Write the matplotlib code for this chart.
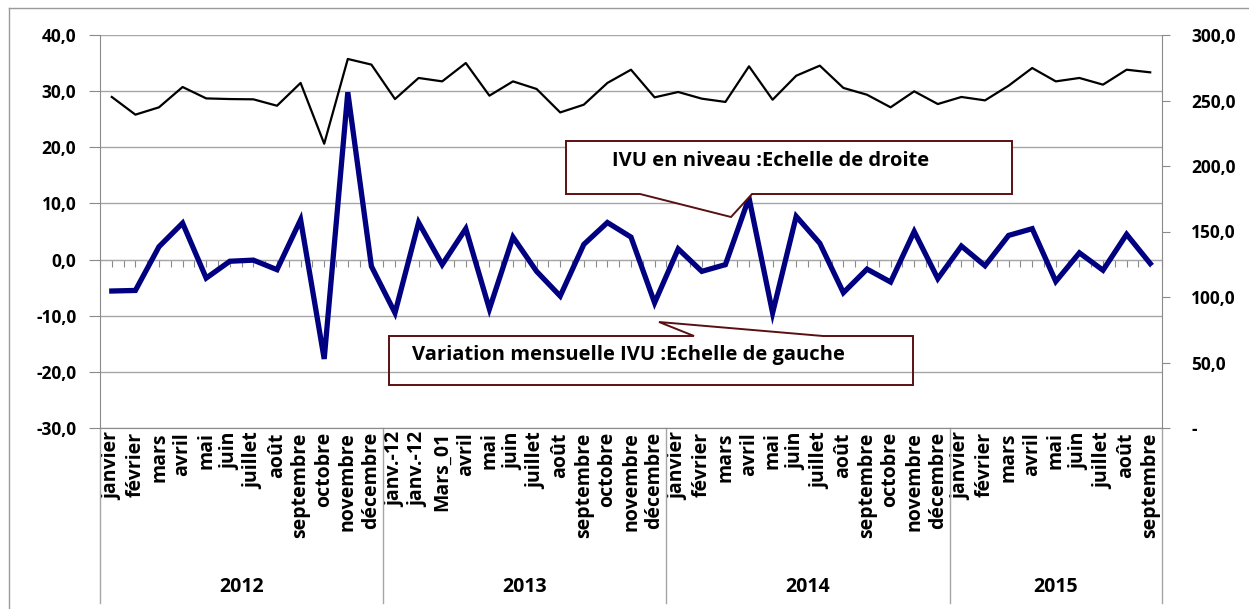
import numpy as np
import matplotlib
matplotlib.use("Agg")
import matplotlib.pyplot as plt
from matplotlib.patches import Polygon
from matplotlib.lines import Line2D
from matplotlib.ticker import FuncFormatter

plt.rcParams['font.family'] = ['Open Sans', 'DejaVu Sans']
plt.rcParams['font.weight'] = 'bold'

# data
months = ['janvier', 'février', 'mars', 'avril', 'mai', 'juin', 'juillet', 'août',
          'septembre', 'octobre', 'novembre', 'décembre',
          'janv.-12', 'janv.-12', 'Mars_01', 'avril', 'mai', 'juin', 'juillet', 'août',
          'septembre', 'octobre', 'novembre', 'décembre',
          'janvier', 'février', 'mars', 'avril', 'mai', 'juin', 'juillet', 'août',
          'septembre', 'octobre', 'novembre', 'décembre',
          'janvier', 'février', 'mars', 'avril', 'mai', 'juin', 'juillet', 'août',
          'septembre']
years = ['2012', '2013', '2014', '2015']
months_per_year = [12, 12, 12, 9]

# monthly variation (left scale)
variation = [-5.6, -5.5, 2.3, 6.5, -3.3, -0.3, -0.1, -1.8, 7.1, -17.7, 29.8, -1.2,
             -9.5, 6.6, -0.9, 5.5, -8.8, 4.0, -2.1, -6.5, 2.7, 6.6, 4.0, -7.7,
             1.9, -2.1, -0.9, 11.0, -9.5, 7.7, 2.9, -5.9, -1.7, -4.0, 5.0, -3.4,
             2.4, -1.1, 4.3, 5.5, -3.9, 1.2, -1.9, 4.5, -0.7]
# level (right scale)
niveau = [252.7, 239.2, 244.8, 260.3, 251.6, 251.1, 250.9, 246.0, 263.4, 217.0, 281.7, 277.4,
          251.1, 267.2, 264.6, 278.6, 253.7, 264.6, 258.8, 240.9, 246.8, 263.4, 273.5, 252.4,
          256.5, 251.4, 248.9, 276.1, 250.6, 268.9, 276.6, 259.6, 254.4, 244.8, 257.0, 247.3,
          252.7, 250.1, 261.3, 274.8, 264.6, 267.2, 262.1, 273.5, 271.5]

W, H = 1249, 609
fig = plt.figure(figsize=(W / 100, H / 100), dpi=100)


def fx(x):
    return x / W


def fy(y):
    return 1 - y / H


grey = '#8a8a8a'
ax = fig.add_axes([fx(100), fy(428), fx(1162) - fx(100), fy(35) - fy(428)])
x = np.arange(len(months))

ax.set_xlim(-0.5, len(months) - 0.5)
ax.set_ylim(-30, 40)
ax.set_yticks(np.arange(-30, 41, 10))
ax.yaxis.set_major_formatter(FuncFormatter(lambda v, p: f'{v:.1f}'.replace('.', ',')))
ax.grid(axis='y', color='#a6a6a6', linewidth=1)
ax.set_axisbelow(True)
for s in ['top', 'right']:
    ax.spines[s].set_visible(False)
for s in ['left', 'bottom']:
    ax.spines[s].set_color(grey)
ax.tick_params(axis='y', length=8, color=grey, labelsize=12.5, pad=9)
ax.set_xticks(x, months, rotation=90)
ax.tick_params(axis='x', length=0, labelsize=14, pad=3)

# zero-line category axis with ticks
sec = ax.secondary_xaxis(30 / 70)
sec.set_xticks(np.arange(-0.5, len(months), 0.5))
sec.tick_params(axis='x', direction='out', length=5, color=grey, labelbottom=False, labeltop=False,
                bottom=True, top=False)
sec.spines['bottom'].set_color('#a6a6a6')
sec.spines['top'].set_visible(False)

ax.plot(x, variation, color='#000080', linewidth=3.8, zorder=3, solid_joinstyle='miter')

ax2 = ax.twinx()
ax2.set_ylim(0, 300)
ax2.set_yticks(np.arange(0, 301, 50))
ax2.yaxis.set_major_formatter(FuncFormatter(lambda v, p: '-' if v == 0 else f'{v:.1f}'.replace('.', ',')))
for s in ['top', 'left', 'bottom']:
    ax2.spines[s].set_visible(False)
ax2.spines['right'].set_color(grey)
ax2.tick_params(axis='y', length=6, color=grey, labelsize=12.5, pad=15)
ax2.plot(x, niveau, color='black', linewidth=1.6, zorder=3)

# year groups below the axis
bounds = np.concatenate([[0], np.cumsum(months_per_year)]) - 0.5
trans = ax.get_xaxis_transform()
for b in bounds:
    ax.add_line(Line2D([b, b], [0, -(603 - 428) / 393], transform=trans, color='#a6a6a6',
                       linewidth=1, clip_on=False))
for i, yr in enumerate(years):
    ax.text((bounds[i] + bounds[i + 1]) / 2, -(587 - 428) / 393, yr, transform=trans,
            ha='center', va='center', fontsize=14, fontweight='bold')

# chart frame
fig.add_artist(Line2D([fx(9), fx(9)], [fy(8), 0], color='#9a9a9a', linewidth=1))
fig.add_artist(Line2D([fx(9), 1], [fy(8), fy(8)], color='#9a9a9a', linewidth=1))

# callouts
edge = '#5a1010'
c1 = [(566, 141), (1012, 141), (1012, 194), (752, 194), (731, 217), (640, 194), (566, 194)]
fig.add_artist(Polygon([(fx(a), fy(b)) for a, b in c1], closed=True, facecolor='white',
                       edgecolor=edge, linewidth=1.4, transform=fig.transFigure, zorder=5))
fig.text(fx(612), fy(161), 'IVU en niveau :Echelle de droite', ha='left', va='center',
         fontsize=14.5, fontweight='bold', zorder=6)

c2 = [(389, 336), (694, 336), (659, 322), (823, 336), (913, 336), (913, 385), (389, 385)]
fig.add_artist(Polygon([(fx(a), fy(b)) for a, b in c2], closed=True, facecolor='none',
                       edgecolor=edge, linewidth=1.4, transform=fig.transFigure, zorder=5))
fig.text(fx(412), fy(355), 'Variation mensuelle IVU :Echelle de gauche', ha='left', va='center',
         fontsize=14.5, fontweight='bold', zorder=6)

fig.savefig('out.png', dpi=100)
